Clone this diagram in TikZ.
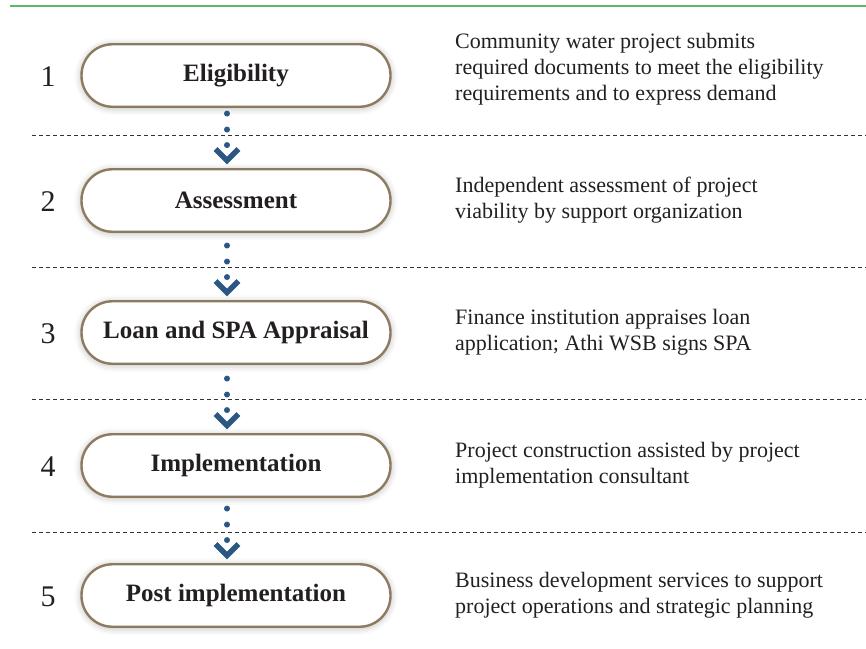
\documentclass[tikz,border=0pt]{standalone}
\usepackage{fontspec}
\setmainfont{Liberation Serif}
\usetikzlibrary{calc,shadows.blur}
\definecolor{boxline}{HTML}{8C7B5E}
\definecolor{arrowblue}{HTML}{2C5783}
\definecolor{topgreen}{HTML}{5DB95B}
\definecolor{txt}{HTML}{231F20}
\tikzset{
  stepbox/.style={draw=boxline, line width=2.4pt, fill=white, rounded corners=31pt,
    minimum width=309pt, minimum height=62.5pt, inner sep=0pt, text=txt,
    font=\fontsize{25}{30}\selectfont\bfseries,
    blur shadow={shadow xshift=0pt, shadow yshift=-1pt, shadow blur radius=7pt, shadow opacity=30, shadow scale=1.0}},
  numlabel/.style={text=txt, font=\fontsize{30}{34}\selectfont, inner sep=0pt},
  desc/.style={anchor=west, align=left, text=txt, inner sep=0pt,
    font=\fontsize{22}{26}\selectfont},
  sepline/.style={draw=black!80, line width=0.9pt, dash pattern=on 4pt off 3pt},
  flowdot/.style={circle, fill=arrowblue, inner sep=0pt, minimum size=6pt},
  chevron/.style={draw=arrowblue, line width=5.5pt, miter limit=10}
}
\begin{document}
\begin{tikzpicture}[x=1pt,y=-1pt]
\useasboundingbox (0,0) rectangle (866,648);
% top rule
\coordinate (gl) at (10,6);
\coordinate (gr) at (866,6);
\draw[topgreen, line width=1.6pt] (gl) -- (gr);
% separators
\foreach \y [count=\i] in {135,267,399,532}{
  \coordinate (sl\i) at (32,\y);
  \coordinate (sr\i) at (866,\y);
  \draw[sepline] (sl\i) -- (sr\i);
}
% boxes
\foreach \cy/\lab [count=\i] in {75.5/Eligibility,200.5/Assessment,332.5/Loan and SPA Appraisal,465.5/Implementation,595.5/Post implementation}{
  \node[stepbox] (b\i) at (236,\cy) {\lab};
  \node[numlabel] (n\i) at (48,\cy+1) {\i};
}
% descriptions
\node[desc] (d1) at (455,69) {Community water project submits\\required documents to meet the eligibility\\requirements and to express demand};
\node[desc] (d2) at (455,200.5) {Independent assessment of project\\viability by support organization};
\node[desc] (d3) at (455,332.5) {Finance institution appraises loan\\application; Athi WSB signs SPA};
\node[desc] (d4) at (455,465.5) {Project construction assisted by project\\implementation consultant};
\node[desc] (d5) at (455,595.5) {Business development services to support\\project operations and strategic planning};
% connectors
\foreach \i/\j in {1/2,2/3,3/4,4/5}{
  \coordinate (v\i) at ($(b\j.north)+(-9,-7.5)$);
  \node[flowdot] (p\i a) at ($(v\i)+(0,-47)$) {};
  \node[flowdot] (p\i b) at ($(v\i)+(0,-31)$) {};
  \node[flowdot] (p\i c) at ($(v\i)+(0,-15.5)$) {};
  \draw[chevron] ($(v\i)+(-11.5,-11.5)$) -- (v\i) -- ($(v\i)+(11.5,-11.5)$);
}
\end{tikzpicture}
\end{document}
